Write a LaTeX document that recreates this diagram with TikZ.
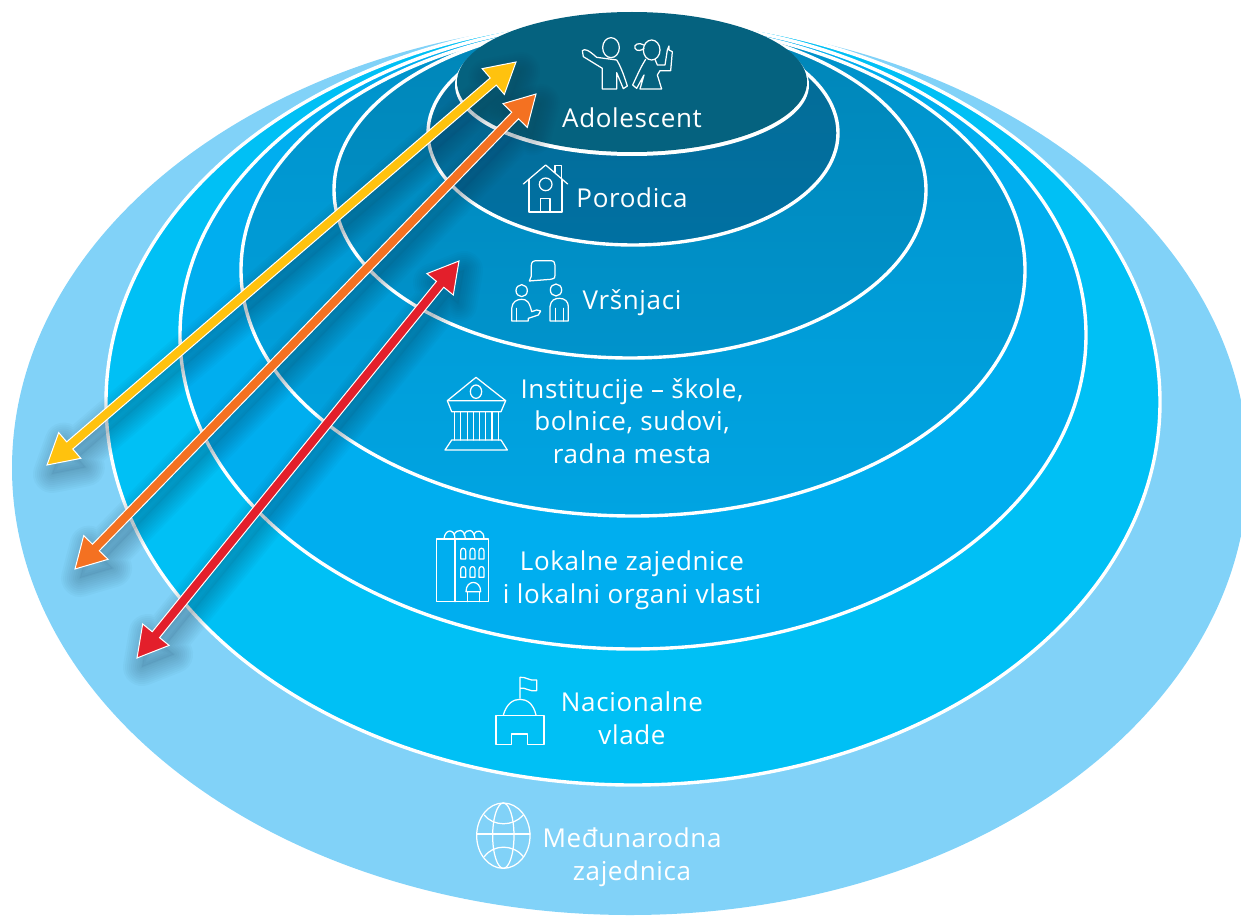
\documentclass[tikz,border=0pt]{standalone}
\usepackage{fontspec}
\setmainfont[LetterSpace=2.5]{Open Sans}
\usetikzlibrary{calc}
\definecolor{cA}{HTML}{05627F}
\definecolor{cBt}{HTML}{056C95}
\definecolor{cBb}{HTML}{0070A2}
\definecolor{cCt}{HTML}{0086B8}
\definecolor{cCb}{HTML}{0093CC}
\definecolor{cDt}{HTML}{0092CA}
\definecolor{cDb}{HTML}{00A4E2}
\definecolor{cE}{HTML}{00AEEF}
\definecolor{cF}{HTML}{00C0F5}
\definecolor{cG}{HTML}{81D2F8}
\definecolor{yel}{HTML}{FFC20E}
\definecolor{ora}{HTML}{F47121}
\definecolor{redd}{HTML}{E31F2B}
\definecolor{shad}{HTML}{1A3A50}
\tikzset{
  ring/.style={draw=white,line width=3.4pt},
  icon/.style={draw=white,line width=1.25pt,line join=round,line cap=round},
  lbl/.style={text=white,align=center,font=\fontsize{26}{32.5}\selectfont},
  arrowbody/.style={draw=white,line width=1pt,line join=miter,fill=#1},
  zone/.style={x=0.33333pt,y=-0.33333pt}
}
\newcommand{\dblpath}[2]{(#1) -- ($(#1)!30pt!(#2)!17pt!90:(#2)$) -- ($(#1)!30pt!(#2)!4.7pt!90:(#2)$) -- ($(#2)!30pt!(#1)!4.7pt!-90:(#1)$) -- ($(#2)!30pt!(#1)!17pt!-90:(#1)$) -- (#2) -- ($(#2)!30pt!(#1)!17pt!90:(#1)$) -- ($(#2)!30pt!(#1)!4.7pt!90:(#1)$) -- ($(#1)!30pt!(#2)!4.7pt!-90:(#2)$) -- ($(#1)!30pt!(#2)!17pt!-90:(#2)$) -- cycle}
\newcommand{\softshadow}[2]{%
  \fill[shad,opacity=0.06] \dblpath{#1}{#2};
  \foreach \w in {38,34,30,26,22,18,14,10,6,2}{%
    \draw[shad,line join=round,opacity=0.03,line width=\w pt] \dblpath{#1}{#2};}}
\begin{document}
\begin{tikzpicture}[x=1pt,y=-1pt]
\useasboundingbox (0,0) rectangle (1241,915);
\clip (0,0) rectangle (1241,915);
% rings
\fill[cG] (630,468) ellipse [x radius=618,y radius=447];
\path[ring,fill=cF] (633,402) ellipse [x radius=527,y radius=383];
\path[ring,fill=cE] (633,335) ellipse [x radius=453,y radius=314];
\path[ring,top color=cDt,bottom color=cDb] (633,270) ellipse [x radius=392,y radius=246];
\path[ring,top color=cCt,bottom color=cCb] (630,190) ellipse [x radius=296,y radius=168];
\path[ring,top color=cBt,bottom color=cBb] (633,133) ellipse [x radius=205,y radius=112];
\fill[white] (632,85) ellipse [x radius=177,y radius=71];
\fill[cA] (632,82) ellipse [x radius=175,y radius=70];
% arrows
\coordinate (yA) at (516,62);
\coordinate (yB) at (47,465);
\coordinate (oA) at (536,94);
\coordinate (oB) at (75,569);
\coordinate (rA) at (459,261);
\coordinate (rB) at (137,658);
\coordinate (ysA) at (521,71);
\coordinate (ysB) at (52,474);
\coordinate (osA) at (541,103);
\coordinate (osB) at (80,578);
\coordinate (rsA) at (464,270);
\coordinate (rsB) at (142,667);
\softshadow{rsA}{rsB}
\softshadow{osA}{osB}
\softshadow{ysA}{ysB}
\draw[arrowbody=redd] \dblpath{rA}{rB};
\draw[arrowbody=ora] \dblpath{oA}{oB};
\draw[arrowbody=yel] \dblpath{yA}{yB};
% labels
\node[lbl] (adol) at (632,118) {Adolescent};
\node[lbl] (poro) at (632,198) {Porodica};
\node[lbl] (vrs) at (632,303) {Vršnjaci};
\node[lbl] (inst) at (632,421) {Institucije – škole,\\bolnice, sudovi,\\radna mesta};
\node[lbl] (lok) at (632,580) {Lokalne zajednice\\i lokalni organi vlasti};
\node[lbl] (nac) at (632,718) {Nacionalne\\vlade};
\node[lbl] (med) at (632,857) {Međunarodna\\zajednica};
% icons, zoom crop 1
\begin{scope}[shift={(420pt,0pt)},zone]
 \draw[icon] (573,143) ellipse [x radius=25,y radius=30];
 \draw[icon] (487,152) .. controls (495,145) and (505,150) .. (530,172) -- (590,180) .. controls (600,195) and (612,225) .. (622,258) -- (610,266) -- (590,218) -- (590,267) -- (547,267) -- (547,205) -- (490,170) -- cycle;
 \draw[icon] (695,150) ellipse [x radius=25,y radius=30];
 \draw[icon] (672,135) .. controls (655,125) and (640,135) .. (645,145) .. controls (650,155) and (665,152) .. (672,145);
 \draw[icon] (677,178) .. controls (660,205) and (650,230) .. (638,255) -- (650,265) -- (672,225) -- (660,267) -- (725,267) -- (712,225) -- (720,212) -- (752,212) -- (757,155) -- (747,150) -- (747,138) -- (742,150) -- (735,195) -- (712,195) -- (705,178);
 % house
 \draw[icon] (310,552) -- (377,495) -- (443,552);
 \draw[icon] (327,538) -- (327,636) -- (426,636) -- (426,538);
 \draw[icon] (405,517) -- (405,497) -- (425,497) -- (425,535);
 \draw[icon] (377,553) circle [radius=19];
 \draw[icon] (362,636) -- (362,596) -- (390,596) -- (390,636);
 % peers
 \draw[icon] (328,843) -- (334,828) -- (334,796) .. controls (334,786) and (340,782) .. (350,782) -- (392,782) .. controls (402,782) and (405,788) .. (405,796) -- (405,825) .. controls (405,835) and (400,838) .. (392,838) -- cycle;
 \draw[icon] (305,872) ellipse [x radius=17,y radius=18];
 \draw[icon] (275,963) -- (275,925) .. controls (277,905) and (290,898) .. (305,898) .. controls (320,898) and (328,905) .. (335,935) -- (350,930) -- (362,933) -- (355,945) -- (325,955) -- (325,963) -- cycle;
 \draw[icon] (290,925) -- (290,963);
 \draw[icon] (408,870) ellipse [x radius=17,y radius=18];
 \draw[icon] (390,963) -- (390,920) .. controls (392,900) and (405,895) .. (418,895) .. controls (435,895) and (445,905) .. (445,920) -- (445,963) -- cycle;
 \draw[icon] (407,925) -- (407,963) (430,925) -- (430,963);
\end{scope}
% icons, zoom crop 2
\begin{scope}[shift={(420pt,-360pt)},zone]
 \draw[icon] (82,122) -- (168,52) -- (257,122) -- cycle;
 \draw[icon] (168,95) ellipse [x radius=17,y radius=20];
 \draw[icon] (82,122) -- (95,155) -- (243,155) -- (257,122);
 \foreach \cx in {103,122,142,160,178,197,216,235}{\draw[icon] (\cx,155) -- (\cx,240);}
 \draw[icon] (95,240) -- (243,240) -- (262,270) -- (75,270) -- cycle;
 \draw[icon] (50,537) rectangle (205,725);
 \draw[icon] (105,537) -- (105,725);
 \draw[icon] (72,537) .. controls (75,505) and (105,505) .. (105,537);
 \draw[icon] (102,525) .. controls (110,505) and (135,505) .. (136,537);
 \draw[icon] (132,525) .. controls (140,505) and (162,505) .. (165,537);
 \draw[icon] (161,525) .. controls (170,505) and (192,510) .. (192,537);
 \foreach \wy in {565,620}{\foreach \wx in {122,150,177}{
   \draw[icon] (\wx,\wy+32) -- (\wx,\wy+8) .. controls (\wx,\wy-3) and (\wx+15,\wy-3) .. (\wx+15,\wy+8) -- (\wx+15,\wy+32) -- cycle;}}
 \draw[icon] (143,725) -- (143,695) (178,695) -- (178,725);
 \draw[icon] (138,695) .. controls (138,658) and (182,658) .. (182,695) -- cycle;
\end{scope}
% icons, zoom crop 3
\begin{scope}[shift={(450pt,-660pt)},zone]
 \draw[icon] (210,115) -- (210,52) .. controls (225,48) and (240,65) .. (260,60) -- (260,92) .. controls (240,97) and (225,80) .. (210,85);
 \draw[icon] (160,165) .. controls (170,130) and (190,118) .. (210,118) .. controls (230,118) and (250,130) .. (258,165);
 \draw[icon] (138,167) -- (282,167) -- (282,254) -- (232,254) -- (232,222) -- (185,222) -- (185,254) -- (138,254) -- cycle;
 \draw[icon] (160,527) ellipse [x radius=80,y radius=98];
 \draw[icon] (160,527) ellipse [x radius=32,y radius=98];
 \draw[icon] (80,522) -- (240,522);
 \draw[icon] (103,465) .. controls (130,500) and (190,500) .. (220,465);
 \draw[icon] (103,590) .. controls (130,552) and (190,552) .. (220,590);
\end{scope}
\end{tikzpicture}
\end{document}
